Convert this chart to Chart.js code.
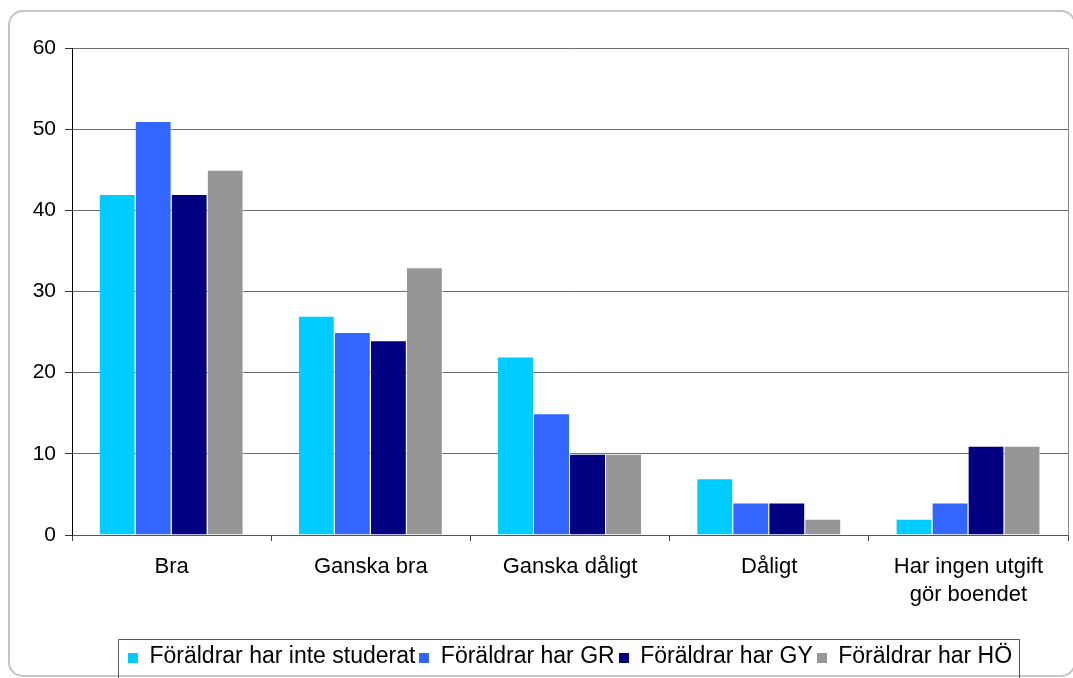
<!DOCTYPE html>
<html>
<head>
<meta charset="utf-8">
<script src="https://cdn.jsdelivr.net/npm/chart.js@4/dist/chart.umd.min.js"></script>
<style>
  html, body { margin: 0; padding: 0; background: #fff; }
  canvas { display: block; }
</style>
</head>
<body>
<canvas id="c" width="1073" height="678"></canvas>
<script>
// ---- data ----
const categories = ['Bra', 'Ganska bra', 'Ganska dåligt', 'Dåligt', ['Har ingen utgift', 'gör boendet']];
const seriesNames = ['Föräldrar har inte studerat', 'Föräldrar har GR', 'Föräldrar har GY', 'Föräldrar har HÖ'];
const inteStuderat = [42, 27, 22, 7, 2];
const harGR = [51, 25, 15, 4, 4];
const harGY = [42, 24, 10, 4, 11];
const harHO = [45, 33, 10, 2, 11];
const yTickValues = [0, 10, 20, 30, 40, 50, 60];

const seriesValues = [inteStuderat, harGR, harGY, harHO];
const seriesColors = ['#00CCFF', '#3366FF', '#000080', '#969696'];

const FONT = "'Liberation Sans', Arial, sans-serif";

const framePlugin = {
  id: 'frame',
  beforeDraw(chart) {
    const ctx = chart.ctx;
    ctx.save();
    ctx.fillStyle = '#fff';
    ctx.fillRect(0, 0, chart.width, chart.height);
    ctx.strokeStyle = '#c4c4c4';
    ctx.lineWidth = 2;
    ctx.beginPath();
    if (ctx.roundRect) ctx.roundRect(9, 11, 1066, 665, 14);
    else ctx.rect(9, 11, 1066, 665);
    ctx.stroke();
    ctx.restore();
  },
  afterDraw(chart) {
    const ctx = chart.ctx;
    const a = chart.chartArea;
    ctx.save();
    // right border of plot area
    ctx.strokeStyle = '#8a8a8a';
    ctx.lineWidth = 1;
    ctx.beginPath();
    ctx.moveTo(Math.round(a.right) + 0.5, a.top);
    ctx.lineTo(Math.round(a.right) + 0.5, a.bottom);
    ctx.stroke();

    // legend (drawn from the datasets)
    const fontSize = 23, box = 10, gap = 4;
    ctx.font = fontSize + 'px ' + FONT;
    const items = chart.data.datasets.map(ds => ({
      text: ds.label,
      color: ds.backgroundColor,
      w: box + fontSize / 2 + ctx.measureText(ds.label).width
    }));
    const total = items.reduce((s, it) => s + it.w, 0) + gap * (items.length - 1);
    const center = (a.left + a.right) / 2;
    let x = center - total / 2;
    const baseline = 663;
    const frameL = Math.round(x - 10) + 0.5;
    const frameR = Math.round(x + total + 7) + 0.5;
    const frameT = 639.5;
    ctx.strokeStyle = '#555';
    ctx.lineWidth = 1;
    ctx.beginPath();
    ctx.moveTo(frameL, chart.height + 5);
    ctx.lineTo(frameL, frameT);
    ctx.lineTo(frameR, frameT);
    ctx.lineTo(frameR, chart.height + 5);
    ctx.stroke();

    ctx.textAlign = 'left';
    ctx.textBaseline = 'alphabetic';
    items.forEach(it => {
      ctx.fillStyle = it.color;
      ctx.fillRect(Math.round(x), baseline - box, box, box);
      ctx.fillStyle = '#000';
      ctx.fillText(it.text, x + box + fontSize / 2, baseline);
      x += it.w + gap;
    });
    ctx.restore();
  }
};

new Chart(document.getElementById('c'), {
  type: 'bar',
  data: {
    labels: categories,
    datasets: seriesNames.map((name, i) => ({
      label: name,
      data: seriesValues[i],
      backgroundColor: seriesColors[i],
      borderColor: 'rgba(255,255,255,0.75)',
      borderWidth: { top: 1, right: 1, left: 0, bottom: 0 },
      borderSkipped: 'bottom',
      categoryPercentage: 0.723,
      barPercentage: 1.0
    }))
  },
  options: {
    responsive: false,
    animation: false,
    devicePixelRatio: 1,
    layout: { padding: { left: 0, right: 5, top: 48, bottom: 43 } },
    plugins: {
      title: { display: false },
      tooltip: { enabled: false },
      legend: { display: false }
    },
    scales: {
      x: {
        offset: true,
        grid: {
          display: true,
          drawOnChartArea: false,
          drawTicks: true,
          tickLength: 6,
          color: '#444',
          offset: true
        },
        border: { display: true, color: '#555', width: 1 },
        ticks: {
          color: '#000',
          font: { family: FONT, size: 22, lineHeight: 1.27 },
          padding: 12,
          maxRotation: 0,
          autoSkip: false
        },
        afterFit(scale) { scale.height = 100; }
      },
      y: {
        min: 0,
        max: 60,
        afterBuildTicks(scale) { scale.ticks = yTickValues.map(v => ({ value: v })); },
        grid: {
          color: '#6a6a6a',
          lineWidth: 1,
          drawTicks: true,
          tickLength: 7,
          tickColor: '#333'
        },
        border: { display: true, color: '#000', width: 1 },
        ticks: {
          color: '#000',
          font: { family: FONT, size: 21 },
          padding: 9
        },
        afterFit(scale) { scale.width = 72; }
      }
    }
  },
  plugins: [framePlugin]
});
</script>
</body>
</html>
